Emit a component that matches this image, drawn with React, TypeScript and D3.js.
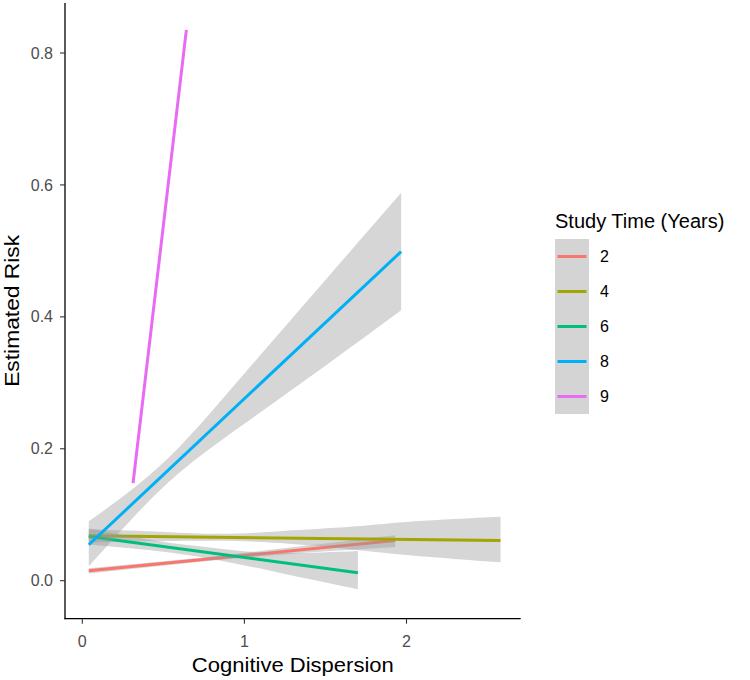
import React from "react";
import * as d3 from "d3";

const groups = ["2", "4", "6", "8", "9"];
const colors = ["#F8766D", "#A3A500", "#00BF7D", "#00B0F6", "#E76BF3"];

// fitted line end points (x, y)
const lineX = [[0.04, 1.93], [0.04, 2.58], [0.04, 1.7], [0.04, 1.967], [0.313, 0.642]];
const lineY = [[0.015, 0.061], [0.068, 0.061], [0.067, 0.012], [0.0545, 0.499], [0.148, 0.835]];

// confidence ribbons
const ribbonX = [
  [0.04, 0.6, 1.2, 1.93],
  [0.04, 0.5, 0.85, 1.22, 1.67, 2.05, 2.58],
  [0.04, 0.5, 0.84, 1.2, 1.7],
  [0.04, 0.3, 0.6, 1.0, 1.5, 1.967],
  [],
];
const ribbonLo = [
  [0.011, 0.0255, 0.039, 0.051],
  [0.058, 0.06, 0.0605, 0.057, 0.047, 0.038, 0.028],
  [0.055, 0.044, 0.031, 0.013, -0.013],
  [0.022, 0.092, 0.164, 0.238, 0.326, 0.41],
  [],
];
const ribbonHi = [
  [0.019, 0.0317, 0.048, 0.069],
  [0.078, 0.074, 0.071, 0.075, 0.082, 0.09, 0.097],
  [0.079, 0.059, 0.049, 0.042, 0.045],
  [0.09, 0.137, 0.203, 0.314, 0.456, 0.588],
  [],
];

const xTicks = [0, 1, 2];
const yTicks = [0, 0.2, 0.4, 0.6, 0.8];
const yTickLabels = ["0.0", "0.2", "0.4", "0.6", "0.8"];

const W = 750;
const H = 680;
const panelL = 65;
const panelR = 520.7;
const panelT = 3;
const panelB = 618.7;

export default function App() {
  const x = d3.scaleLinear().domain([0, 2]).range([82.3, 406.5]);
  const y = d3.scaleLinear().domain([0, 0.8]).range([580.7, 53]);

  const line = d3
    .line<[number, number]>()
    .x((d) => x(d[0]))
    .y((d) => y(d[1]));

  const area = d3
    .area<number>()
    .x((i, k, arr) => 0)
    .curve(d3.curveNatural);

  return (
    <svg
      width={W}
      height={H}
      style={{ position: "absolute", left: 0, top: 0, background: "#fff" }}
      fontFamily="'Liberation Sans', Arial, sans-serif"
    >
      <defs>
        <clipPath id="panel">
          <rect x={panelL} y={panelT} width={panelR - panelL} height={panelB - panelT} />
        </clipPath>
      </defs>
      <rect x={0} y={0} width={W} height={H} fill="#fff" />
      <g clipPath="url(#panel)">
        {groups.map((g, gi) => {
          const xs = ribbonX[gi];
          const pts = xs.map((xv, i) => ({ x: xv, lo: ribbonLo[gi][i], hi: ribbonHi[gi][i] }));
          const ribbonPath =
            pts.length > 0
              ? d3
                  .area<{ x: number; lo: number; hi: number }>()
                  .x((d) => x(d.x))
                  .y0((d) => y(d.lo))
                  .y1((d) => y(d.hi))
                  .curve(d3.curveNatural)(pts)
              : null;
          const lp: [number, number][] = [
            [lineX[gi][0], lineY[gi][0]],
            [lineX[gi][1], lineY[gi][1]],
          ];
          return (
            <g key={g}>
              {ribbonPath && <path d={ribbonPath} fill="#999999" fillOpacity={0.4} stroke="none" />}
              <path d={line(lp) || ""} fill="none" stroke={colors[gi]} strokeWidth={3} strokeLinecap="butt" />
            </g>
          );
        })}
      </g>

      {/* axes */}
      <line x1={panelL} x2={panelL} y1={panelT} y2={panelB + 0.5} stroke="#000" strokeWidth={1.3} />
      <line x1={panelL - 0.5} x2={panelR} y1={panelB} y2={panelB} stroke="#000" strokeWidth={1.3} />
      {yTicks.map((t, i) => (
        <g key={"y" + t}>
          <line x1={panelL - 5} x2={panelL} y1={y(t)} y2={y(t)} stroke="#333" strokeWidth={1.1} />
          <text x={panelL - 12} y={y(t)} dy="0.35em" textAnchor="end" fontSize={16} fill="#4D4D4D">
            {yTickLabels[i]}
          </text>
        </g>
      ))}
      {xTicks.map((t) => (
        <g key={"x" + t}>
          <line x1={x(t)} x2={x(t)} y1={panelB} y2={panelB + 5} stroke="#333" strokeWidth={1.1} />
          <text x={x(t)} y={641} dy="0.35em" textAnchor="middle" fontSize={16} fill="#4D4D4D">
            {t}
          </text>
        </g>
      ))}

      <text
        x={(panelL + panelR) / 2}
        y={672}
        textAnchor="middle"
        fontSize={21}
        fill="#000"
        textLength={202}
        lengthAdjust="spacingAndGlyphs"
      >
        Cognitive Dispersion
      </text>
      <text
        transform={`translate(19,${(panelT + panelB) / 2}) rotate(-90)`}
        textAnchor="middle"
        fontSize={21}
        fill="#000"
        textLength={152}
        lengthAdjust="spacingAndGlyphs"
      >
        Estimated Risk
      </text>

      {/* legend */}
      <text x={555} y={228} fontSize={20} fill="#000">
        Study Time (Years)
      </text>
      {groups.map((g, gi) => {
        const top = 239 + gi * 35;
        return (
          <g key={"leg" + g}>
            <rect x={555} y={top} width={34} height={35} fill="#D4D4D4" />
            <line x1={557.5} x2={586.5} y1={top + 17.5} y2={top + 17.5} stroke={colors[gi]} strokeWidth={3} />
            <text x={600} y={top + 17.5} dy="0.35em" fontSize={16} fill="#000">
              {g}
            </text>
          </g>
        );
      })}
    </svg>
  );
}
